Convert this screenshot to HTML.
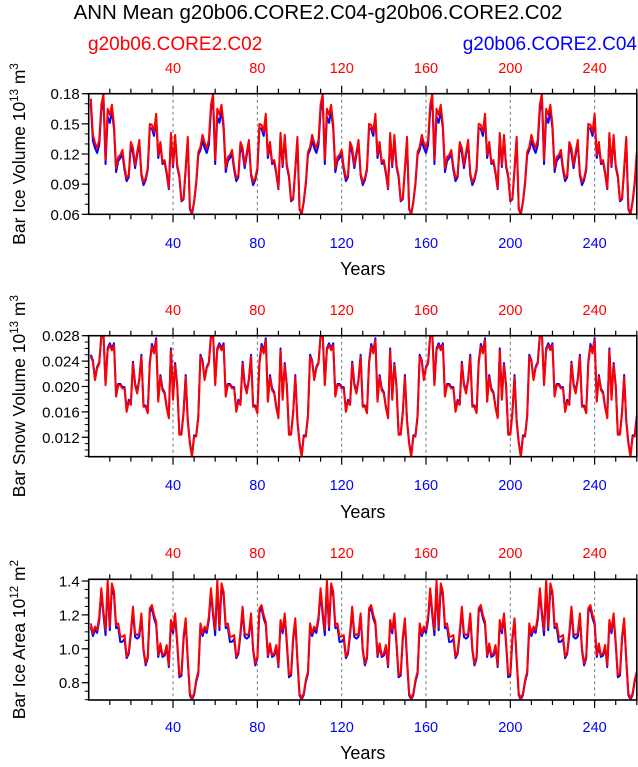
<!DOCTYPE html>
<html><head><meta charset="utf-8"><style>
html,body{margin:0;padding:0;background:#fff;}
svg text{font-family:"Liberation Sans",sans-serif;}
</style></head><body>
<svg id="chart" width="638" height="762" viewBox="0 0 638 762" xmlns="http://www.w3.org/2000/svg">
<text x="318" y="19" font-size="20.5" text-anchor="middle">ANN Mean g20b06.CORE2.C04-g20b06.CORE2.C02</text>
<text x="88" y="50" font-size="19" fill="#ff0000">g20b06.CORE2.C02</text>
<text x="637" y="50" font-size="19" fill="#0000ff" text-anchor="end">g20b06.CORE2.C04</text>
<g id="plots"></g>
</svg>
<script>
const xTicks = [40, 80, 120, 160, 200, 240];
const iceVolRedFirst = [0.175,0.139,0.131,0.126,0.134,0.169,0.180,0.114,0.165,0.159,0.169,0.149,0.106,0.117,0.119,0.124,0.107,0.096,0.099,0.132,0.126,0.109,0.122,0.134,0.101,0.092,0.096,0.106,0.150,0.149,0.142,0.160,0.119,0.132,0.112,0.114,0.102,0.086,0.141,0.109,0.139,0.109,0.099,0.074,0.076,0.106,0.137,0.066,0.061,0.073,0.092,0.122];
const iceVolRedCycle = [0.127,0.139,0.131,0.126,0.134,0.169,0.180,0.114,0.165,0.159,0.169,0.149,0.106,0.117,0.119,0.124,0.107,0.096,0.099,0.132,0.126,0.109,0.122,0.134,0.101,0.092,0.096,0.106,0.150,0.149,0.142,0.160,0.119,0.132,0.112,0.114,0.102,0.086,0.141,0.109,0.139,0.109,0.099,0.074,0.076,0.106,0.137,0.066,0.061,0.073,0.092,0.122];
const iceVolBlueFirst = [0.170,0.133,0.126,0.121,0.129,0.163,0.175,0.110,0.157,0.151,0.163,0.145,0.102,0.113,0.116,0.120,0.104,0.093,0.097,0.129,0.121,0.106,0.119,0.131,0.099,0.089,0.094,0.104,0.146,0.145,0.138,0.156,0.116,0.129,0.110,0.112,0.100,0.085,0.138,0.107,0.136,0.107,0.097,0.073,0.075,0.104,0.134,0.065,0.060,0.072,0.090,0.119];
const iceVolBlueCycle = [0.124,0.133,0.126,0.121,0.129,0.163,0.175,0.110,0.157,0.151,0.163,0.145,0.102,0.113,0.116,0.120,0.104,0.093,0.097,0.129,0.121,0.106,0.119,0.131,0.099,0.089,0.094,0.104,0.146,0.145,0.138,0.156,0.116,0.129,0.110,0.112,0.100,0.085,0.138,0.107,0.136,0.107,0.097,0.073,0.075,0.104,0.134,0.065,0.060,0.072,0.090,0.119];
const snowRedCycle = [0.0247,0.0239,0.0210,0.0229,0.0236,0.0278,0.0281,0.0202,0.0257,0.0265,0.0257,0.0265,0.0184,0.0202,0.0202,0.0197,0.0197,0.0160,0.0176,0.0171,0.0236,0.0202,0.0189,0.0210,0.0247,0.0168,0.0168,0.0158,0.0236,0.0263,0.0252,0.0273,0.0176,0.0215,0.0194,0.0189,0.0166,0.0150,0.0257,0.0179,0.0234,0.0200,0.0124,0.0124,0.0158,0.0215,0.0145,0.0110,0.0089,0.0121,0.0121,0.0152];
const snowBlueCycle = [0.0250,0.0241,0.0212,0.0231,0.0238,0.0281,0.0283,0.0204,0.0260,0.0268,0.0260,0.0268,0.0186,0.0204,0.0204,0.0199,0.0199,0.0163,0.0179,0.0173,0.0239,0.0205,0.0192,0.0212,0.0250,0.0170,0.0170,0.0160,0.0239,0.0267,0.0255,0.0276,0.0178,0.0218,0.0197,0.0191,0.0168,0.0152,0.0260,0.0182,0.0237,0.0202,0.0126,0.0126,0.0160,0.0218,0.0147,0.0112,0.0091,0.0123,0.0123,0.0154];
const areaRedCycle = [1.150,1.091,1.131,1.111,1.190,1.357,1.219,1.111,1.406,1.131,1.386,1.337,1.140,1.150,1.072,1.072,1.081,0.954,0.983,1.101,1.249,1.091,1.081,1.091,1.209,1.003,0.914,0.954,1.239,1.258,1.199,1.160,0.963,1.032,0.963,0.973,1.022,0.904,1.170,1.111,1.209,1.042,0.845,0.855,1.072,1.180,0.944,0.737,0.708,0.737,0.816,0.865];
const areaBlueCycle = [1.130,1.075,1.112,1.094,1.170,1.330,1.198,1.080,1.375,1.110,1.360,1.315,1.122,1.128,1.040,1.042,1.058,0.945,0.970,1.082,1.228,1.070,1.060,1.072,1.190,0.990,0.902,0.944,1.218,1.238,1.180,1.142,0.952,1.015,0.952,0.960,1.008,0.892,1.150,1.092,1.190,1.026,0.832,0.842,1.055,1.162,0.932,0.726,0.700,0.728,0.805,0.852];
const iceVolRed = [].concat(iceVolRedFirst, iceVolRedCycle, iceVolRedCycle, iceVolRedCycle, iceVolRedCycle);
const iceVolBlue = [].concat(iceVolBlueFirst, iceVolBlueCycle, iceVolBlueCycle, iceVolBlueCycle, iceVolBlueCycle);
const snowRed = [].concat(snowRedCycle, snowRedCycle, snowRedCycle, snowRedCycle, snowRedCycle);
const snowBlue = [].concat(snowBlueCycle, snowBlueCycle, snowBlueCycle, snowBlueCycle, snowBlueCycle);
const areaRed = [].concat(areaRedCycle, areaRedCycle, areaRedCycle, areaRedCycle, areaRedCycle);
const areaBlue = [].concat(areaBlueCycle, areaBlueCycle, areaBlueCycle, areaBlueCycle, areaBlueCycle);
const iceVolTicks = ["0.06","0.09","0.12","0.15","0.18"];
const snowTicks = ["0.012","0.016","0.020","0.024","0.028"];
const areaTicks = ["0.8","1.0","1.2","1.4"];

const NS = "http://www.w3.org/2000/svg";
const X0 = 88.7, X1 = 636.8, XMIN = 0, XMAX = 260;
function xs(v){ return X0 + (v - XMIN) / (XMAX - XMIN) * (X1 - X0); }
function mk(tag, attrs, parent){
  const e = document.createElementNS(NS, tag);
  for (const k in attrs) e.setAttribute(k, attrs[k]);
  parent.appendChild(e);
  return e;
}
const root = document.getElementById('plots');
const panels = [
  {id:'ice-volume', top:93.7, bot:214.3, ymin:0.06, ymax:0.18, ticks:iceVolTicks, minor:0.01, red:iceVolRed, blue:iceVolBlue, lab:['Bar Ice Volume 10','13',' m','3'], topLab:73, botLab:248, years:275},
  {id:'snow-volume', top:335.7, bot:456.7, ymin:0.00894, ymax:0.028, ticks:snowTicks, minor:0.001, red:snowRed, blue:snowBlue, lab:['Bar Snow Volume 10','13',' m','3'], topLab:315, botLab:490, years:518},
  {id:'ice-area', top:579.3, bot:700, ymin:0.698, ymax:1.41, ticks:areaTicks, minor:0.05, red:areaRed, blue:areaBlue, lab:['Bar Ice Area 10','12',' m','2'], topLab:558, botLab:732, years:759}
];
panels.forEach((p, pi) => {
  const ys = v => p.bot - (v - p.ymin) / (p.ymax - p.ymin) * (p.bot - p.top);
  const g = mk('g', {}, root);
  
  
  const cp = mk('clipPath', {id:'clip'+pi}, g);
  mk('rect', {x:X0-1, y:p.top, width:X1-X0+2, height:p.bot-p.top}, cp);
  xTicks.forEach(t => {
    const l = mk('line', {x1:xs(t), x2:xs(t), y1:p.top, y2:p.bot, stroke:'#777', 'stroke-width':1, 'stroke-dasharray':'3,3'}, g);
    
    
  });
  for (let t = 10; t <= 260; t += 10) {
    const major = t % 40 === 0;
    const len = major ? 8 : 5;
    mk('line', {x1:xs(t), x2:xs(t), y1:p.top, y2:p.top-len, stroke:'#000', 'stroke-width':1.2}, g);
    mk('line', {x1:xs(t), x2:xs(t), y1:p.bot, y2:p.bot+len, stroke:'#000', 'stroke-width':1.2}, g);
  }
  xTicks.forEach(t => {
    const a = mk('text', {x:xs(t), y:p.topLab, 'font-size':14.5, fill:'#ff0000', 'text-anchor':'middle'}, g);
    a.textContent = t;
    
    
    const b = mk('text', {x:xs(t), y:p.botLab, 'font-size':14.5, fill:'#0000ff', 'text-anchor':'middle'}, g);
    b.textContent = t;
    
    
  });
  const yt = mk('text', {x:(X0+X1)/2, y:p.years, 'font-size':18, 'text-anchor':'middle'}, g);
  yt.textContent = 'Years';
  
  
  for (let v = Math.ceil(p.ymin / p.minor - 1e-6) * p.minor; v <= p.ymax + 1e-9; v += p.minor) {
    mk('line', {x1:X0, x2:X0-4, y1:ys(v), y2:ys(v), stroke:'#000', 'stroke-width':1}, g);
  }
  p.ticks.forEach(s => {
    const v = parseFloat(s);
    mk('line', {x1:X0, x2:X0-7, y1:ys(v), y2:ys(v), stroke:'#000', 'stroke-width':1.2}, g);
    const t = mk('text', {x:X0-9, y:ys(v)+5.5, 'font-size':15, 'text-anchor':'end'}, g);
    t.textContent = s;
    
    
  });
  const cy = (p.top + p.bot) / 2;
  const tt = mk('text', {x:0, y:0, 'font-size':17.5, 'text-anchor':'middle', transform:'translate(25,'+cy+') rotate(-90)'}, g);
  
  
  const t1 = mk('tspan', {}, tt); t1.textContent = p.lab[0];
  const t2 = mk('tspan', {dy:-7, 'font-size':11.5}, tt); t2.textContent = p.lab[1];
  const t3 = mk('tspan', {dy:7}, tt); t3.textContent = p.lab[2];
  const t4 = mk('tspan', {dy:-7, 'font-size':11.5}, tt); t4.textContent = p.lab[3];
  [['blue', p.blue, '#0000ff'], ['red', p.red, '#ff0000']].forEach(s => {
    const d = s[1].map((v, i) => (i ? 'L' : 'M') + xs(i + 1).toFixed(2) + ',' + ys(v).toFixed(2)).join('');
    const path = mk('path', {d:d, fill:'none', stroke:s[2], 'stroke-width':2, 'stroke-linejoin':'round', 'clip-path':'url(#clip'+pi+')'}, g);
    
    
  });
  const fr = mk('rect', {x:X0, y:p.top, width:X1-X0, height:p.bot-p.top, fill:'none', stroke:'#000', 'stroke-width':1.6}, g);
  
  
});
</script>
</body></html>
